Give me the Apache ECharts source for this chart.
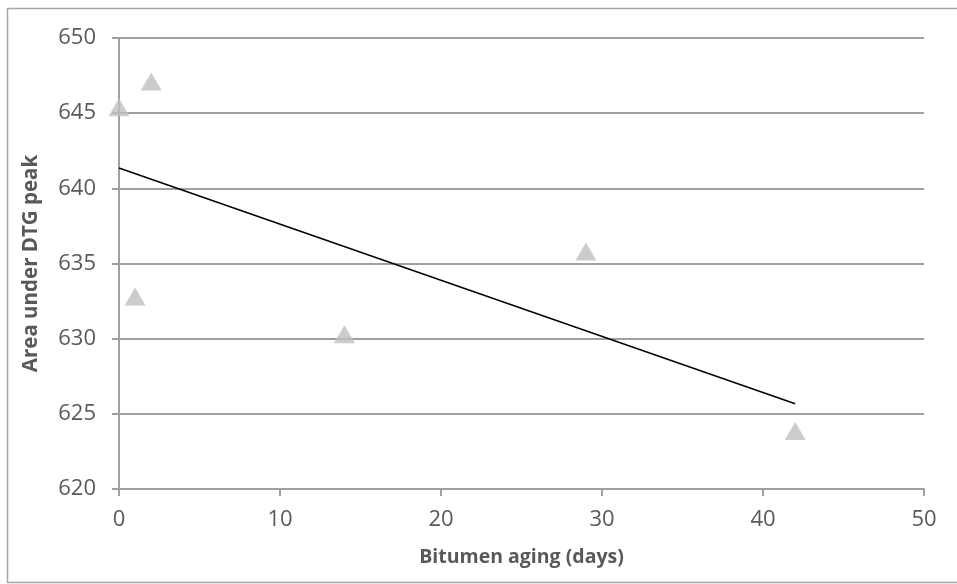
<!DOCTYPE html>
<html><head><meta charset="utf-8">
<script src="https://cdn.jsdelivr.net/npm/echarts@6/dist/echarts.min.js"></script>
<style>html,body{margin:0;padding:0;background:#fff}#c{width:957px;height:584px}</style>
</head><body><div id="c"></div>
<script>
var agingDays = [0, 1, 2, 14, 29, 42];
var dtgArea = [645.4, 632.8, 647.1, 630.3, 635.8, 623.85];
var xTicks = [0, 10, 20, 30, 40, 50];
var yTicks = [620, 625, 630, 635, 640, 645, 650];

// linear least-squares trendline from the data
var n = agingDays.length, mx = 0, my = 0;
for (var i = 0; i < n; i++) { mx += agingDays[i]; my += dtgArea[i]; }
mx /= n; my /= n;
var sxy = 0, sxx = 0;
for (var i = 0; i < n; i++) { sxy += (agingDays[i]-mx)*(dtgArea[i]-my); sxx += (agingDays[i]-mx)*(agingDays[i]-mx); }
var slope = sxy/sxx, icpt = my - slope*mx;
var xmin = Math.min.apply(null, agingDays), xmax = Math.max.apply(null, agingDays);
var trend = [[xmin, icpt + slope*xmin], [xmax, icpt + slope*xmax]];

var font = 'Open Sans, Liberation Sans, sans-serif';
var chart = echarts.init(document.getElementById('c'), null, {renderer: 'canvas'});
chart.setOption({
  animation: false,
  backgroundColor: '#fff',
  graphic: [{
    type: 'rect', shape: {x: 7.5, y: 8.5, width: 1000, height: 574}, z: -1,
    style: {fill: 'none', stroke: '#a6a6a6', lineWidth: 1.5}
  }],
  grid: {left: 119, right: 33, top: 38, bottom: 95},
  xAxis: {
    type: 'value', min: xTicks[0], max: xTicks[xTicks.length-1], interval: 10,
    name: 'Bitumen aging (days)', nameLocation: 'middle', nameGap: 58,
    nameTextStyle: {fontFamily: font, fontWeight: 'bold', fontSize: 19.5, color: '#595959'},
    axisLine: {show: true, lineStyle: {color: '#a0a0a0', width: 2}},
    axisTick: {show: true, length: 7, lineStyle: {color: '#a0a0a0', width: 2}},
    axisLabel: {fontFamily: font, fontSize: 22, color: '#595959', margin: 20},
    splitLine: {show: false}
  },
  yAxis: {
    type: 'value', min: yTicks[0], max: yTicks[yTicks.length-1], interval: 5,
    name: 'Area under DTG peak', nameLocation: 'middle', nameGap: 77,
    nameTextStyle: {fontFamily: font, fontWeight: 'bold', fontSize: 20.5, color: '#595959'},
    axisLine: {show: true, lineStyle: {color: '#a0a0a0', width: 2}},
    axisTick: {show: true, length: 7, lineStyle: {color: '#a0a0a0', width: 2}},
    axisLabel: {fontFamily: font, fontSize: 22, color: '#595959', margin: 23},
    splitLine: {show: true, lineStyle: {color: '#a0a0a0', width: 2}}
  },
  series: [{
    type: 'scatter', data: agingDays.map(function(x, i){ return [x, dtgArea[i]]; }),
    symbol: 'triangle', symbolSize: [21, 18],
    itemStyle: {color: '#bfbfbf'}, z: 3
  }, {
    type: 'line', data: trend, symbol: 'none',
    lineStyle: {color: '#000', width: 1.5}, z: 4
  }]
});
</script></body></html>
